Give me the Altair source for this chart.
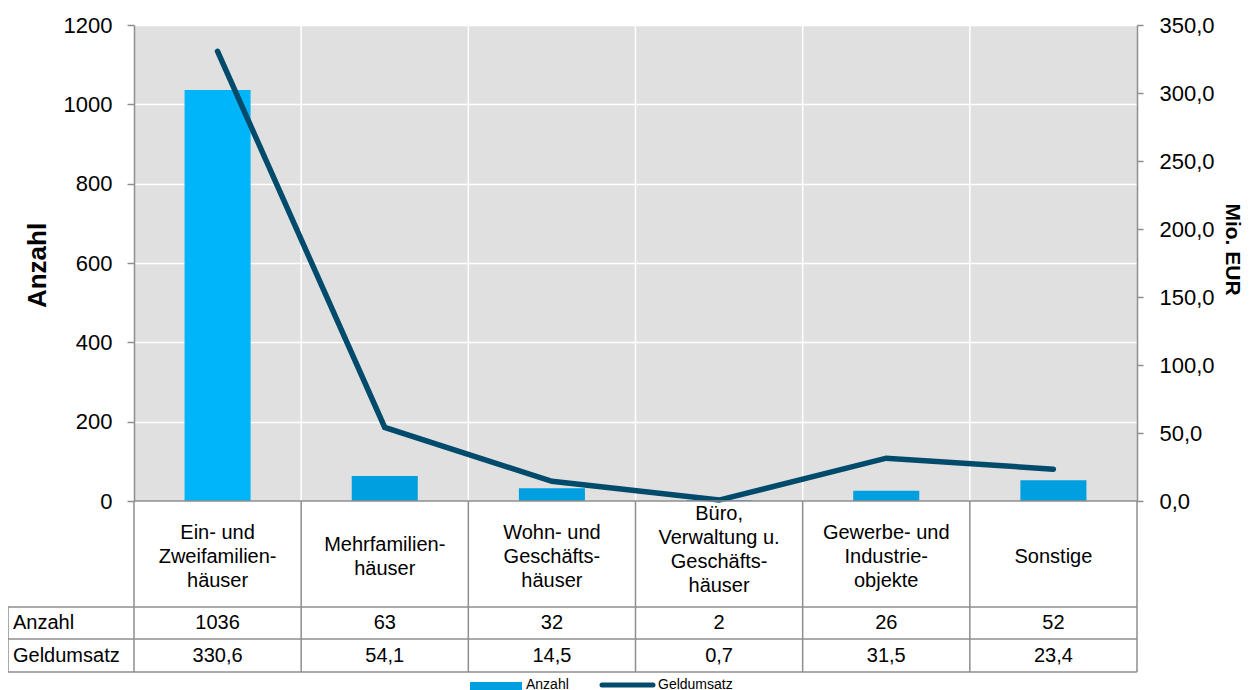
import altair as alt
import pandas as pd

# ---- data ----
categories = [
    "Ein- und\nZweifamilien-\nhäuser",
    "Mehrfamilien-\nhäuser",
    "Wohn- und\nGeschäfts-\nhäuser",
    "Büro,\nVerwaltung u.\nGeschäfts-\nhäuser",
    "Gewerbe- und\nIndustrie-\nobjekte",
    "Sonstige",
]
anzahl = [1036, 63, 32, 2, 26, 52]
geldumsatz = [330.6, 54.1, 14.5, 0.7, 31.5, 23.4]
series_names = ["Anzahl", "Geldumsatz"]
left_ticks = [0, 200, 400, 600, 800, 1000, 1200]
right_ticks = [0, 50, 100, 150, 200, 250, 300, 350]
left_title = "Anzahl"
right_title = "Mio. EUR"

df = pd.DataFrame({"cat": categories, "anzahl": anzahl, "geld": geldumsatz})
df["idx"] = list(range(len(categories)))
df["nlines"] = [c.count("\n") + 1 for c in categories]

# ---- styling ----
W, H = 1003, 476
FONT = "Liberation Sans"
BAR_FIRST = "#00B5FA"
BAR_OTHER = "#009FDF"
LINE_COL = "#004B6B"
GRID_GRAY = "#8E8E8E"
BG = "#E0E0E0"

xscale = alt.Scale(type="band", domain=categories, paddingInner=0, paddingOuter=0)


def xcat(band_pos=None):
    if band_pos is None:
        return alt.X("cat:N", scale=xscale, axis=None)
    return alt.X("cat:N", scale=xscale, axis=None, bandPosition=band_pos)


base = alt.Chart(df)
one = alt.Data(values=[{}])

# white vertical grid lines at category boundaries (inside the plot)
vgrid = base.transform_filter("datum.idx > 0").mark_rule(
    color="white", strokeWidth=1.5
).encode(x=xcat(0), y=alt.value(0), y2=alt.value(H))

bars = base.mark_bar(width=alt.RelativeBandSize(0.395)).encode(
    x=xcat(),
    y=alt.Y(
        "anzahl:Q",
        scale=alt.Scale(domain=[0, 1200], nice=False),
        axis=alt.Axis(
            orient="left",
            values=left_ticks,
            format="d",
            title=left_title,
            grid=True,
            gridColor="white",
            gridWidth=1.5,
            domainColor=GRID_GRAY,
            domainWidth=1.5,
            tickColor=GRID_GRAY,
            tickWidth=1.5,
            tickSize=7,
            labelPadding=15,
            labelFontSize=22,
            labelFont=FONT,
            labelColor="black",
            titleFont=FONT,
            titleFontSize=26,
            titleFontWeight="bold",
            titleColor="black",
            titleX=-97,
            titleY=240,
            titleBaseline="middle",
            titleAngle=-90,
        ),
    ),
    color=alt.condition("datum.idx == 0", alt.value(BAR_FIRST), alt.value(BAR_OTHER)),
)

line = base.mark_line(
    color=LINE_COL, strokeWidth=5.5, strokeCap="round", strokeJoin="miter"
).encode(
    x=xcat(),
    y=alt.Y(
        "geld:Q",
        scale=alt.Scale(domain=[0, 350], nice=False),
        axis=alt.Axis(
            orient="right",
            values=right_ticks,
            labelExpr="replace(format(datum.value, '.1f'), '.', ',')",
            title=right_title,
            grid=False,
            domainColor=GRID_GRAY,
            domainWidth=1.5,
            tickColor=GRID_GRAY,
            tickWidth=1.5,
            tickSize=6,
            labelPadding=16,
            labelFontSize=22,
            labelFont=FONT,
            labelColor="black",
            titleFont=FONT,
            titleFontSize=21,
            titleFontWeight="bold",
            titleColor="black",
            titleX=94,
            titleY=224,
            titleBaseline="middle",
            titleAngle=90,
        ),
    ),
)

# ---- table below the plot ----
T_HEAD_BOTTOM = 582
T_ROW1_BOTTOM = 614
T_ROW2_BOTTOM = 647
T_LEFT = -126

table_vlines = base.mark_rule(color=GRID_GRAY, strokeWidth=1.5).encode(
    x=xcat(0), y=alt.value(H), y2=alt.value(T_ROW2_BOTTOM)
)


def hrule(yv, x1, x2):
    return alt.Chart(one).mark_rule(color=GRID_GRAY, strokeWidth=1.5).encode(
        x=alt.value(x1), x2=alt.value(x2), y=alt.value(yv)
    )


def vrule(xv, y1, y2):
    return alt.Chart(one).mark_rule(color=GRID_GRAY, strokeWidth=1.5).encode(
        x=alt.value(xv), y=alt.value(y1), y2=alt.value(y2)
    )


table_lines = [
    hrule(H, 0, W),
    hrule(T_HEAD_BOTTOM, T_LEFT, W),
    hrule(T_ROW1_BOTTOM, T_LEFT, W),
    hrule(T_ROW2_BOTTOM, T_LEFT, W),
    vrule(T_LEFT, T_HEAD_BOTTOM, T_ROW2_BOTTOM),
    vrule(W, H, T_ROW2_BOTTOM),
]

# first-line y (multi-line text flows downward from y) for 1..4 line headers
first_line_y = {1: 532, 2: 520, 3: 508, 4: 489}
cat_texts = [
    base.transform_filter(f"datum.nlines == {k}").mark_text(
        font=FONT, fontSize=20, lineBreak="\n", lineHeight=24, baseline="middle",
        align="center", color="black"
    ).encode(x=xcat(), y=alt.value(yv), text="cat:N")
    for k, yv in first_line_y.items()
]

anz_text = base.mark_text(
    font=FONT, fontSize=20, baseline="middle", align="center", color="black"
).encode(x=xcat(), y=alt.value(598), text=alt.Text("anzahl:Q", format="d"))

geld_text = base.transform_calculate(
    gtxt="replace(format(datum.geld, '.1f'), '.', ',')"
).mark_text(
    font=FONT, fontSize=20, baseline="middle", align="center", color="black"
).encode(x=xcat(), y=alt.value(631), text="gtxt:N")

row_label_1 = alt.Chart(one).mark_text(
    font=FONT, fontSize=20, baseline="middle", align="left", color="black",
    text=series_names[0]
).encode(x=alt.value(T_LEFT + 5), y=alt.value(598))

row_label_2 = alt.Chart(one).mark_text(
    font=FONT, fontSize=20, baseline="middle", align="left", color="black",
    text=series_names[1]
).encode(x=alt.value(T_LEFT + 5), y=alt.value(631))

# ---- legend (bottom, manual) ----
leg_rect = alt.Chart(one).mark_rect(color=BAR_OTHER).encode(
    x=alt.value(336), x2=alt.value(388), y=alt.value(657), y2=alt.value(668)
)
leg_rect_txt = alt.Chart(one).mark_text(
    font=FONT, fontSize=14, baseline="middle", align="left", color="black",
    text=series_names[0]
).encode(x=alt.value(392), y=alt.value(660))
leg_line = alt.Chart(one).mark_rule(
    color=LINE_COL, strokeWidth=5, strokeCap="round"
).encode(x=alt.value(468), x2=alt.value(519), y=alt.value(660))
leg_line_txt = alt.Chart(one).mark_text(
    font=FONT, fontSize=14, baseline="middle", align="left", color="black",
    text=series_names[1]
).encode(x=alt.value(524), y=alt.value(660))

chart = alt.layer(
    vgrid, bars, line, table_vlines, *table_lines,
    *cat_texts, anz_text, geld_text, row_label_1, row_label_2,
    leg_rect, leg_rect_txt, leg_line, leg_line_txt,
).resolve_scale(y="independent").properties(
    width=W,
    height=H,
    autosize=alt.AutoSizeParams(type="none"),
    padding={"left": 126, "top": 17, "right": 108, "bottom": 189},
).configure_view(fill=BG, stroke=None)

chart.save("out.html", embed_options={"renderer": "svg", "actions": False})
